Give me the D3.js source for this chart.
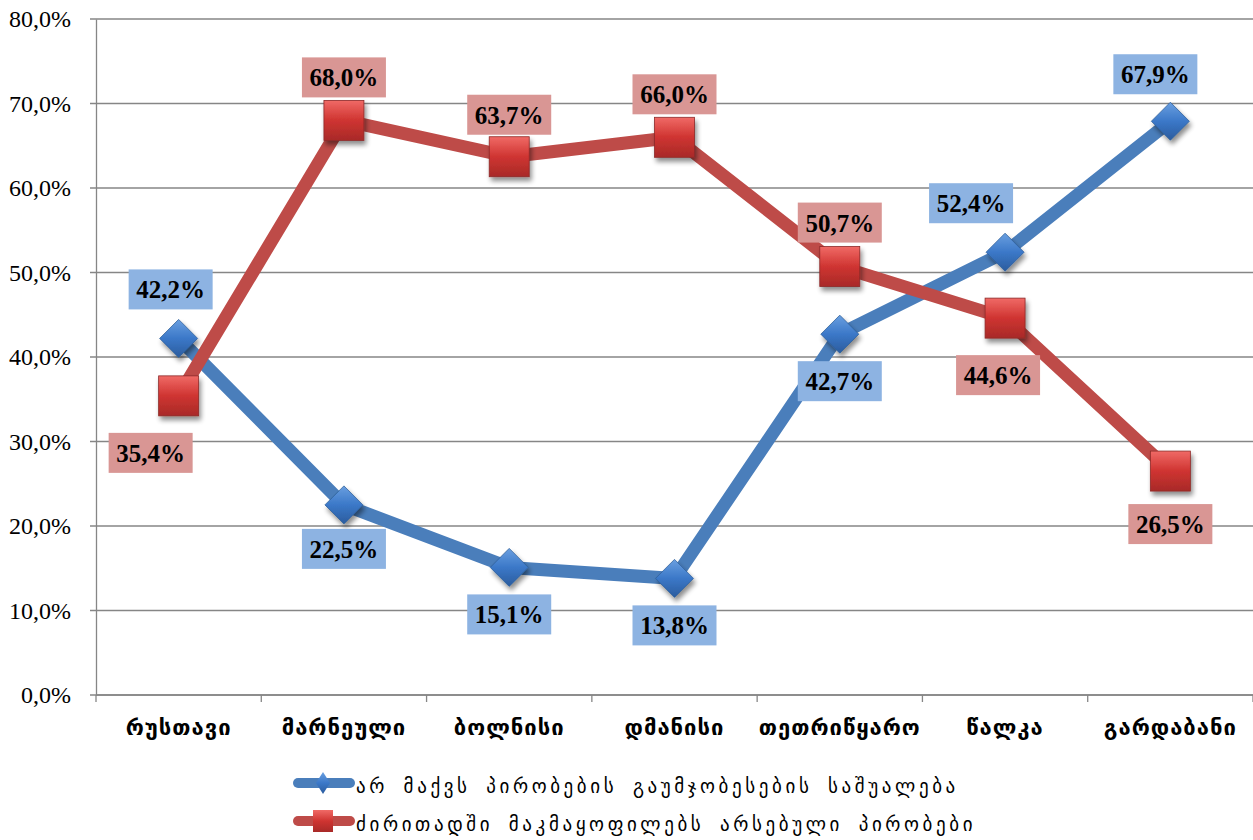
<!DOCTYPE html>
<html>
<head>
<meta charset="utf-8">
<script src="https://cdn.jsdelivr.net/npm/d3@7"></script>
<style>
  body { margin: 0; background: #fff; }
  svg { display: block; }
</style>
</head>
<body>
<div id="chart"></div>
<script>
const categories = ["რუსთავი", "მარნეული", "ბოლნისი", "დმანისი", "თეთრიწყარო", "წალკა", "გარდაბანი"];
const noMeans = [42.2, 22.5, 15.1, 13.8, 42.7, 52.4, 67.9];
const satisfied = [35.4, 68.0, 63.7, 66.0, 50.7, 44.6, 26.5];
const seriesNames = [
  "არ მაქვს პირობების გაუმჯობესების საშუალება",
  "ძირითადში მაკმაყოფილებს არსებული პირობები"
];
const yTicks = [0, 10, 20, 30, 40, 50, 60, 70, 80];

// where each data label sits relative to its marker
const bluePlace = [[-8, -49], [0, 44], [0, 47], [0, 47], [0, 47], [-34, -49], [-15, -47]];
const redPlace = [[-28, 57], [0, -43], [0, -42], [0, -43], [0, -44], [-7, 57], [0, 53]];

const W = 1253, H = 840;
const mLeft = 96, mRight = 1253, mTop = 19, mBottom = 695;

const svg = d3.select("#chart").append("svg")
  .attr("width", W).attr("height", H);

const defs = svg.append("defs");
const shadow = defs.append("filter").attr("id", "shadow")
  .attr("x", "-50%").attr("y", "-50%").attr("width", "200%").attr("height", "200%");
shadow.append("feGaussianBlur").attr("in", "SourceAlpha").attr("stdDeviation", 2.5);
shadow.append("feOffset").attr("dx", 2).attr("dy", 4).attr("result", "b");
shadow.append("feComponentTransfer").append("feFuncA").attr("type", "linear").attr("slope", 0.45);
const merge = shadow.append("feMerge");
merge.append("feMergeNode");
merge.append("feMergeNode").attr("in", "SourceGraphic");

function grad(id, c1, c2, c3) {
  const g = defs.append("linearGradient").attr("id", id)
    .attr("x1", 0).attr("y1", 0).attr("x2", 0).attr("y2", 1);
  g.append("stop").attr("offset", "0%").attr("stop-color", c1);
  g.append("stop").attr("offset", "50%").attr("stop-color", c2);
  g.append("stop").attr("offset", "100%").attr("stop-color", c3);
}
grad("gBlue", "#6a9fe0", "#3b78c8", "#2b5c9e");
grad("gRed", "#f06a66", "#cf3431", "#a82a28");

const x = d3.scaleBand().domain(categories).range([mLeft, mRight]);
const y = d3.scaleLinear().domain([0, 80]).range([mBottom, mTop]);
const cx = d => x(d) + x.bandwidth() / 2;

// gridlines
svg.append("g").selectAll("line").data(yTicks).enter().append("line")
  .attr("x1", mLeft - 6).attr("x2", mRight)
  .attr("y1", d => y(d)).attr("y2", d => y(d))
  .attr("stroke", "#868686").attr("stroke-width", 1.3);

// y axis
const yAxis = d3.axisLeft(y).tickValues(yTicks).tickSize(0).tickPadding(25)
  .tickFormat(d => d3.format(".1f")(d).replace(".", ",") + "%");
const ya = svg.append("g").attr("transform", `translate(${mLeft},0)`).call(yAxis);
ya.select(".domain").attr("stroke", "#868686").attr("stroke-width", 1.3);
ya.selectAll("text").attr("font-family", "'Liberation Serif', 'Times New Roman', serif")
  .attr("font-size", 24).attr("fill", "#000");

// x axis
const xa = svg.append("g").attr("transform", `translate(0,${mBottom})`);
xa.append("line").attr("x1", mLeft).attr("x2", mRight).attr("stroke", "#868686").attr("stroke-width", 1.3);
xa.selectAll(".tk").data(categories.concat(["end"])).enter().append("line")
  .attr("x1", (d, i) => mLeft + i * x.bandwidth()).attr("x2", (d, i) => mLeft + i * x.bandwidth())
  .attr("y1", 0).attr("y2", 7).attr("stroke", "#868686").attr("stroke-width", 1.3);
xa.selectAll("text").data(categories).enter().append("text")
  .attr("x", d => cx(d)).attr("y", 40)
  .attr("text-anchor", "middle")
  .attr("font-family", "'DejaVu Sans', sans-serif").attr("font-weight", "bold")
  .attr("font-size", 22).attr("letter-spacing", 1)
  .text(d => d);

const line = d3.line().x((d, i) => cx(categories[i])).y(d => y(d));

const series = [
  { vals: noMeans, color: "#4a7ebb", fill: "url(#gBlue)", label: "#8db3e2", shape: "diamond", place: bluePlace },
  { vals: satisfied, color: "#be4b48", fill: "url(#gRed)", label: "#d99694", shape: "square", place: redPlace }
];

function marker(g, shape, fill, s) {
  if (shape === "diamond") {
    g.append("path").attr("d", `M0,${-s}L${s},0L0,${s}L${-s},0Z`)
      .attr("fill", fill).attr("stroke", "#2f5f9a").attr("stroke-width", 0.8);
  } else {
    g.append("rect").attr("x", -s).attr("y", -s).attr("width", 2 * s).attr("height", 2 * s)
      .attr("fill", fill).attr("stroke", "#8c2a28").attr("stroke-width", 0.8);
  }
}

series.forEach(s => {
  svg.append("path").datum(s.vals).attr("d", line)
    .attr("fill", "none").attr("stroke", s.color).attr("stroke-width", 13)
    .attr("stroke-linejoin", "round");
});

series.forEach(s => {
  const g = svg.append("g");
  s.vals.forEach((v, i) => {
    const m = g.append("g").attr("transform", `translate(${cx(categories[i])},${y(v)})`)
      .attr("filter", "url(#shadow)");
    marker(m, s.shape, s.fill, s.shape === "diamond" ? 19 : 20);
  });
});

series.forEach(s => {
  s.vals.forEach((v, i) => {
    const px = cx(categories[i]) + s.place[i][0];
    const py = y(v) + s.place[i][1];
    const lg = svg.append("g").attr("transform", `translate(${px},${py})`);
    lg.append("rect").attr("x", -42).attr("y", -20).attr("width", 84).attr("height", 40)
      .attr("fill", s.label);
    lg.append("text").attr("text-anchor", "middle").attr("y", 9)
      .attr("font-family", "'Liberation Serif', 'Times New Roman', serif")
      .attr("font-weight", "bold").attr("font-size", 25)
      .text(d3.format(".1f")(v).replace(".", ",") + "%");
  });
});

// legend
const lgd = svg.append("g");
series.forEach((s, i) => {
  const ly = 783 + i * 38;
  const g = lgd.append("g").attr("transform", `translate(0,${ly})`);
  g.append("line").attr("x1", 298).attr("x2", 350).attr("stroke", s.color)
    .attr("stroke-width", 10).attr("stroke-linecap", "round");
  const m = g.append("g").attr("transform", "translate(323,0)");
  if (s.shape === "diamond") {
    m.append("path").attr("d", "M0,-11L7,0L0,11L-7,0Z").attr("fill", s.fill);
  } else {
    m.append("rect").attr("x", -10).attr("y", -11).attr("width", 20).attr("height", 22).attr("fill", s.fill);
  }
  g.append("text").attr("x", 356).attr("y", 10)
    .attr("font-family", "'DejaVu Sans', sans-serif").attr("font-size", 19)
    .attr("letter-spacing", 3.6).attr("word-spacing", 6).attr("fill", "#000")
    .text(seriesNames[i]);
});
</script>
</body>
</html>
